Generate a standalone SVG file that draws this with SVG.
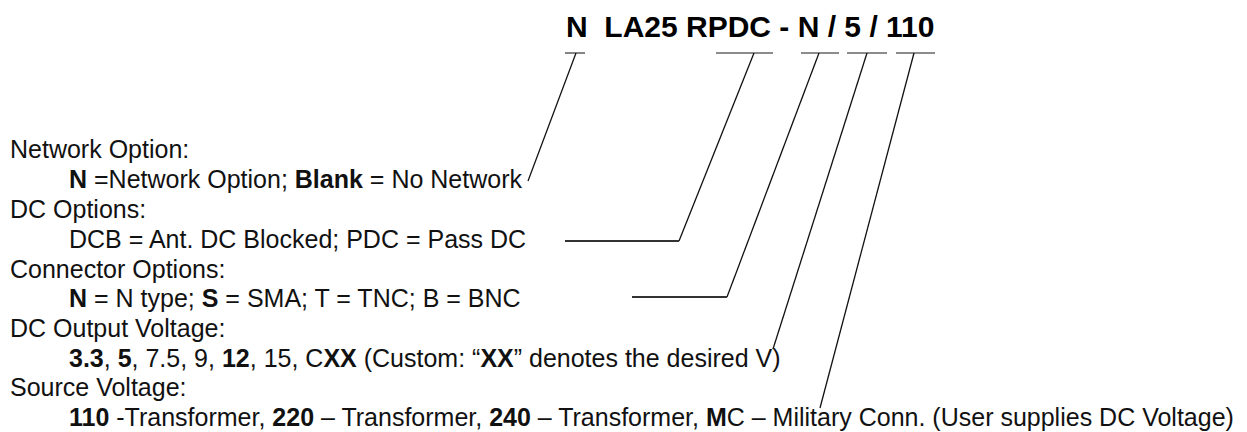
<svg xmlns="http://www.w3.org/2000/svg" width="1247" height="432" viewBox="0 0 1247 432">
<style>
text{font-family:"Liberation Sans",Arial,sans-serif;font-size:25px;fill:#111}
.b{font-weight:bold}
.title{font-size:30px;font-weight:bold;fill:#000}
.ul{stroke:#666;stroke-width:1.6;fill:none}
.ln{stroke:#111;stroke-width:1.3;fill:none}
.hz{stroke:#333;stroke-width:1.8;fill:none}
</style>
<rect width="1247" height="432" fill="#fff"/>
<g id="title">
<text class="title" x="566" y="36.5" xml:space="preserve">N  LA25 RPDC - N / 5 / 110</text>
</g>
<g id="connectors">
<line class="ul" x1="565" y1="53" x2="585" y2="53"/>
<line class="ul" x1="716" y1="53" x2="773" y2="53"/>
<line class="ul" x1="801" y1="53" x2="839" y2="53"/>
<line class="ul" x1="847" y1="53" x2="887" y2="53"/>
<line class="ul" x1="896" y1="53" x2="935" y2="53"/>
<line class="ln" x1="576" y1="53" x2="528" y2="181"/>
<polyline class="ln" points="754,53 679,241"/>
<line class="hz" x1="565" y1="241" x2="679" y2="241"/>
<polyline class="ln" points="819,53 727,297"/>
<line class="hz" x1="632" y1="297" x2="727" y2="297"/>
<line class="ln" x1="867" y1="53" x2="773" y2="349"/>
<line class="ln" x1="914" y1="53" x2="820" y2="408"/>
</g>
<g id="network">
<text x="10" y="158">Network Option:</text>
<text x="69" y="188"><tspan class="b">N</tspan> =Network Option; <tspan class="b">Blank</tspan> = No Network</text>
</g>
<g id="dc-options">
<text x="10" y="218">DC Options:</text>
<text x="69" y="248">DCB = Ant. DC Blocked; PDC = Pass DC</text>
</g>
<g id="connector-options">
<text x="10" y="278">Connector Options:</text>
<text x="69" y="307"><tspan class="b">N</tspan> = N type; <tspan class="b">S</tspan> = SMA; T = TNC; B = BNC</text>
</g>
<g id="dc-output">
<text x="10" y="337">DC Output Voltage:</text>
<text x="69" y="367"><tspan class="b">3.3</tspan>, <tspan class="b">5</tspan>, 7.5, 9, <tspan class="b">12</tspan>, 15, C<tspan class="b">XX</tspan> (Custom: “<tspan class="b">XX</tspan>” denotes the desired V)</text>
</g>
<g id="source">
<text x="10" y="396">Source Voltage:</text>
<text x="69" y="426"><tspan class="b">110</tspan> -Transformer, <tspan class="b">220</tspan> – Transformer, <tspan class="b">240</tspan> – Transformer, <tspan class="b">M</tspan>C – Military Conn. (User supplies DC Voltage)</text>
</g>
</svg>
